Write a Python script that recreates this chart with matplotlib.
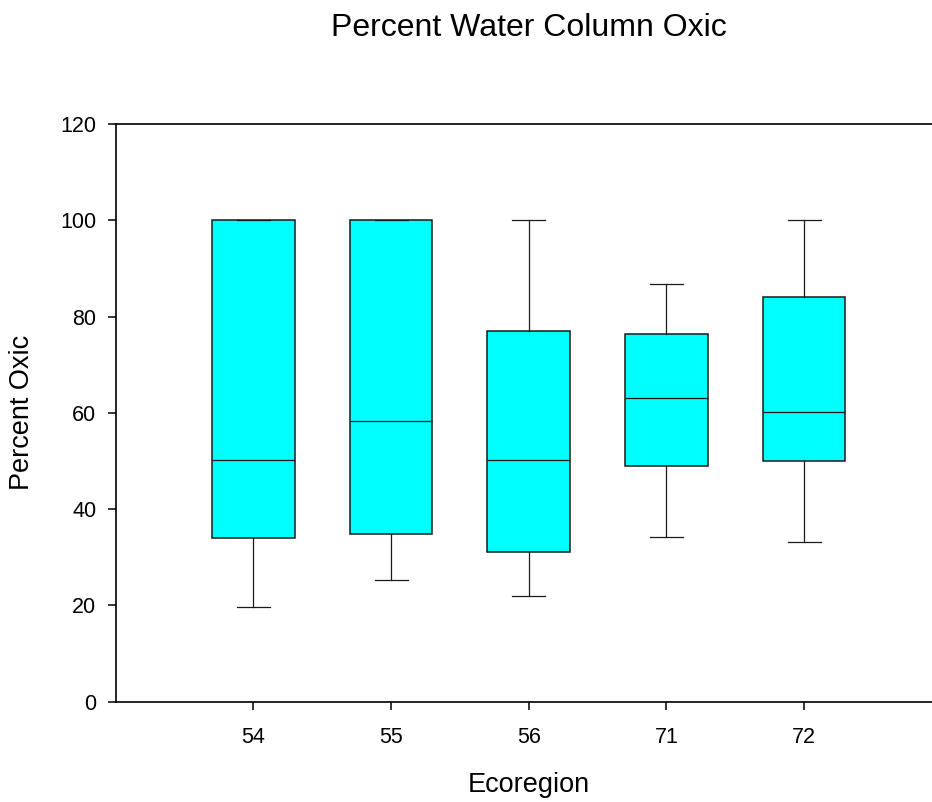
import matplotlib
matplotlib.use("Agg")
import matplotlib.pyplot as plt

plt.rcParams['font.family'] = ['Liberation Sans', 'DejaVu Sans']

ecoregions = ['54', '55', '56', '71', '72']
whisker_low = [19.7, 25.3, 22.0, 34.2, 33.1]
quartile_1 = [34.1, 34.8, 31.1, 48.9, 50.0]
medians = [50.1, 58.2, 50.1, 63.1, 60.1]
quartile_3 = [100.0, 100.0, 77.1, 76.4, 84.1]
whisker_high = [100.0, 100.0, 100.0, 86.7, 100.0]


def main():
    stats = []
    for i in range(len(ecoregions)):
        stats.append({
            'label': ecoregions[i],
            'whislo': whisker_low[i],
            'q1': quartile_1[i],
            'med': medians[i],
            'q3': quartile_3[i],
            'whishi': whisker_high[i],
        })

    fig = plt.figure(figsize=(9.32, 8.02), dpi=100)
    ax = fig.add_axes([0.1241, 0.1251, 0.8865, 0.7203])

    line = dict(color='#1a1a1a', linewidth=0.9)
    ax.bxp(stats, positions=range(1, 6), widths=0.6, capwidths=0.24,
           showfliers=False, patch_artist=True,
           boxprops=dict(facecolor='#00FFFF', edgecolor='#1a1a1a', linewidth=1.1),
           medianprops=line, whiskerprops=line, capprops=line)

    ax.set_xlim(0, 6)
    ax.set_ylim(0, 120)
    ax.set_yticks(range(0, 121, 20))
    ax.set_xticks(range(1, 6))
    ax.set_xticklabels(ecoregions)

    ax.spines['right'].set_visible(False)
    for side in ['left', 'bottom', 'top']:
        ax.spines[side].set_linewidth(1.2)
    ax.tick_params(direction='out', length=6, width=1.1, labelsize=15.5)
    ax.tick_params(axis='y', pad=8)
    ax.tick_params(axis='x', pad=12)

    ax.set_xlabel("Ecoregion", fontsize=19.5, va='center')
    ax.set_ylabel("Percent Oxic", fontsize=19.5, va='center')
    ax.xaxis.set_label_coords(0.5, -0.144)
    ax.yaxis.set_label_coords(-0.1138, 0.5)
    fig.text(529 / 932, 1 - 28 / 802, "Percent Water Column Oxic",
             fontsize=23, ha='center', va='center')

    fig.savefig("out.png", dpi=100)


if __name__ == "__main__":
    main()
